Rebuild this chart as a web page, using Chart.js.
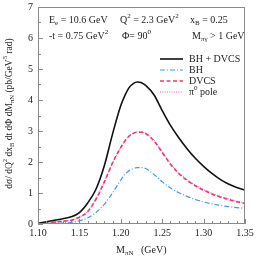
<!DOCTYPE html>
<html>
<head>
<meta charset="utf-8">
<script src="https://cdn.jsdelivr.net/npm/chart.js@4.4.1/dist/chart.umd.min.js"></script>
<style>
  html, body { margin: 0; padding: 0; background: #fff; }
  #wrap { position: relative; width: 258px; height: 258px; }
  #wrap canvas { position: absolute; left: 0; top: 0; }
  .ylab {
    position: absolute;
    font: 10px "Liberation Serif", "DejaVu Serif", serif;
    color: #222;
    line-height: 10px;
    text-align: right;
    width: 20px;
    z-index: 2;
  }
</style>
</head>
<body>
<div id="wrap"><canvas id="c" width="258" height="258"></canvas></div>
<script>
"use strict";

// M_piN in GeV
const mass = [1.10, 1.11, 1.12, 1.13, 1.14, 1.15, 1.16, 1.17, 1.18, 1.19, 1.20, 1.205, 1.21, 1.215, 1.22,
              1.225, 1.23, 1.24, 1.25, 1.26, 1.27, 1.28, 1.29, 1.30, 1.31, 1.32, 1.33, 1.34, 1.35];
const bhDvcs = [0.02, 0.07, 0.12, 0.17, 0.23, 0.37, 0.68, 1.12, 1.87, 2.90, 3.82, 4.15, 4.40, 4.53, 4.58,
                4.56, 4.47, 4.17, 3.66, 3.18, 2.78, 2.43, 2.12, 1.86, 1.63, 1.44, 1.29, 1.18, 1.09];
const bh = [0.00, 0.01, 0.02, 0.03, 0.05, 0.10, 0.20, 0.37, 0.63, 1.00, 1.42, 1.60, 1.72, 1.79, 1.82,
            1.82, 1.79, 1.60, 1.36, 1.16, 1.01, 0.89, 0.79, 0.71, 0.65, 0.60, 0.56, 0.53, 0.50];
const dvcs = [0.00, 0.03, 0.06, 0.09, 0.12, 0.22, 0.40, 0.80, 1.35, 1.97, 2.47, 2.68, 2.83, 2.92, 2.96,
              2.96, 2.92, 2.68, 2.31, 1.93, 1.63, 1.41, 1.23, 1.09, 0.97, 0.87, 0.79, 0.72, 0.66];
const pionPole = [0.00, 0.03, 0.06, 0.09, 0.12, 0.22, 0.40, 0.80, 1.35, 1.97, 2.48, 2.69, 2.84, 2.93, 2.97,
                  2.97, 2.93, 2.70, 2.33, 1.95, 1.65, 1.43, 1.25, 1.11, 0.99, 0.89, 0.81, 0.74, 0.68];
const xTicks = [1.10, 1.15, 1.20, 1.25, 1.30, 1.35];
const yTicks = [0, 1, 2, 3, 4, 5, 6, 7];

const FONT = '"Liberation Serif", "DejaVu Serif", serif';
const AXIS = "#8a8a8a";

function pts(ys) {
    return mass.map(function(m, i) { return { x: m, y: ys[i] }; });
}

// y pixel from the scale; falls back to the chart area if the scale answer is off
function yPix(chart, v) {
    const a = chart.chartArea;
    const p = chart.scales.y.getPixelForValue(v);
    if (isFinite(p) && p >= a.top - 1 && p <= a.bottom + 1) return p;
    const lo = yTicks[0], hi = yTicks[yTicks.length - 1];
    return a.bottom - (v - lo) / (hi - lo) * (a.bottom - a.top);
}

// draws a run of text pieces: [text, "n" | "b" (sub) | "p" (sup)]
function rich(ctx, x, y, parts, size) {
    ctx.textBaseline = "middle";
    ctx.textAlign = "left";
    parts.forEach(function(p) {
        let s = size, dy = 0;
        if (p[1] === "b") { s = size * 0.7; dy = size * 0.3; }
        if (p[1] === "p") { s = size * 0.7; dy = -size * 0.38; }
        ctx.font = s + "px " + FONT;
        ctx.fillText(p[0], x, y + dy);
        x += ctx.measureText(p[0]).width;
    });
    return x;
}

function richWidth(ctx, parts, size) {
    let w = 0;
    parts.forEach(function(p) {
        const s = p[1] === "n" ? size : size * 0.7;
        ctx.font = s + "px " + FONT;
        w += ctx.measureText(p[0]).width;
    });
    return w;
}

const extras = {
    id: "extras",
    afterDraw: function(chart) {
        const ctx = chart.ctx;
        const a = chart.chartArea;
        const xs = chart.scales.x;
        const fs = 10;

        // frame and inward ticks
        ctx.save();
        ctx.strokeStyle = AXIS;
        ctx.lineWidth = 1;
        ctx.strokeRect(a.left + 0.5, a.top + 0.5, a.right - a.left - 1, a.bottom - a.top - 1);
        ctx.beginPath();
        for (let k = 0; k <= 14; k++) {
            const py = Math.round(yPix(chart, k * 0.5)) + 0.5;
            const len = k % 2 === 0 ? 5 : 3;
            ctx.moveTo(a.left, py); ctx.lineTo(a.left + len, py);
        }
        for (let k = 0; k <= 25; k++) {
            const px = Math.round(xs.getPixelForValue(1.10 + k * 0.01)) + 0.5;
            const len = k % 5 === 0 ? 5 : 3;
            ctx.moveTo(px, a.bottom); ctx.lineTo(px, a.bottom - len);
        }
        ctx.stroke();
        ctx.restore();

        ctx.save();
        ctx.fillStyle = "#222";
        // kinematics
        rich(ctx, 49, 20, [["E", "n"], ["e", "b"], [" = 10.6 GeV", "n"]], fs);
        rich(ctx, 120, 20, [["Q", "n"], ["2", "p"], [" = 2.3 GeV", "n"], ["2", "p"]], fs);
        rich(ctx, 190, 20, [["x", "n"], ["B", "b"], [" = 0.25", "n"]], fs);
        rich(ctx, 49, 36, [["-t = 0.75 GeV", "n"], ["2", "p"]], fs);
        rich(ctx, 122, 36, [["\u03A6= 90", "n"], ["0", "p"]], fs);
        rich(ctx, 192, 36, [["M", "n"], ["\u03C0\u03B3", "b"], [" > 1 GeV", "n"]], fs);

        // legend
        const labels = [
            [["BH + DVCS", "n"]],
            [["BH", "n"]],
            [["DVCS", "n"]],
            [["\u03C0", "n"], ["0", "p"], [" pole", "n"]]
        ];
        chart.data.datasets.forEach(function(d, i) {
            const ly = 59 + i * 11;
            ctx.beginPath();
            ctx.strokeStyle = d.borderColor;
            ctx.lineWidth = d.borderWidth;
            ctx.setLineDash(d.borderDash || []);
            ctx.moveTo(160, ly); ctx.lineTo(183, ly);
            ctx.stroke();
            ctx.setLineDash([]);
            ctx.fillStyle = "#222";
            rich(ctx, 189, ly, labels[i], fs);
        });

        // x title
        rich(ctx, 116, 250, [["M", "n"], ["\u03C0N", "b"], ["   (GeV)", "n"]], fs);
        ctx.restore();

        // y title
        ctx.save();
        ctx.fillStyle = "#222";
        const yParts = [["d\u03C3/ dQ", "n"], ["2", "p"], [" dx", "n"], ["B", "b"], [" dt d\u03A6 dM", "n"],
                        ["\u03C0N", "b"], [" (pb/GeV", "n"], ["5", "p"], [" rad)", "n"]];
        const w = richWidth(ctx, yParts, 9.5);
        ctx.translate(9, (a.top + a.bottom) / 2 - 2);
        ctx.rotate(-Math.PI / 2);
        rich(ctx, -w / 2, 0, yParts, 9.5);
        ctx.restore();
    }
};

const chart = new Chart(document.getElementById("c"), {
    "type": "line",
    "data": {
        "datasets": [
            { "label": "BH + DVCS", "data": pts(bhDvcs), "borderColor": "#111111", "borderWidth": 1.6 },
            { "label": "BH", "data": pts(bh), "borderColor": "#3f9be0", "borderWidth": 1.2, "borderDash": [5, 2, 1, 2] },
            { "label": "DVCS", "data": pts(dvcs), "borderColor": "#f03a5c", "borderWidth": 1.6, "borderDash": [4, 2.5] },
            { "label": "pi0 pole", "data": pts(pionPole), "borderColor": "#e455e6", "borderWidth": 1.1, "borderDash": [1, 1.3] }
        ]
    },
    "options": {
        "responsive": false,
        "animation": false,
        "layout": { "padding": { "top": 7, "right": 13, "left": 0, "bottom": 0 } },
        "elements": {
            "point": { "radius": 0 },
            "line": { "cubicInterpolationMode": "monotone", "fill": false }
        },
        "plugins": {
            "legend": { "display": false },
            "tooltip": { "enabled": false }
        },
        "scales": {
            "x": {
                "type": "linear",
                "min": 1.10,
                "max": 1.35,
                "afterFit": function(s) { s.height = 34; },
                "afterBuildTicks": function(s) { s.ticks = xTicks.map(function(v) { return { value: v }; }); },
                "grid": { "display": false, "drawTicks": false },
                "border": { "display": false },
                "ticks": {
                    "padding": 3,
                    "maxRotation": 0,
                    "color": "#222",
                    "font": { "family": FONT, "size": 10 },
                    "callback": function(v) { return v.toFixed(2); }
                }
            },
            "y": {
                "type": "linear",
                "min": 0,
                "max": 7,
                "afterFit": function(s) { s.width = 38; },
                "grid": { "display": false, "drawTicks": false },
                "border": { "display": false },
                "ticks": { "display": false, "stepSize": 1 }
            }
        }
    },
    "plugins": [extras]
});

// y tick labels as text placed next to the canvas, positioned from the y scale
const area = chart.chartArea || { left: 38, top: 7, bottom: 224 };
const wrap = document.getElementById("wrap");
yTicks.forEach(function(v) {
    const el = document.createElement("div");
    el.className = "ylab";
    el.textContent = String(v);
    let py = yPix(chart, v);
    if (!isFinite(py)) py = area.bottom - v / 7 * (area.bottom - area.top);
    el.style.left = (area.left - 5 - 20) + "px";
    el.style.top = (py - 5.5) + "px";
    wrap.appendChild(el);
});
</script>
</body>
</html>
